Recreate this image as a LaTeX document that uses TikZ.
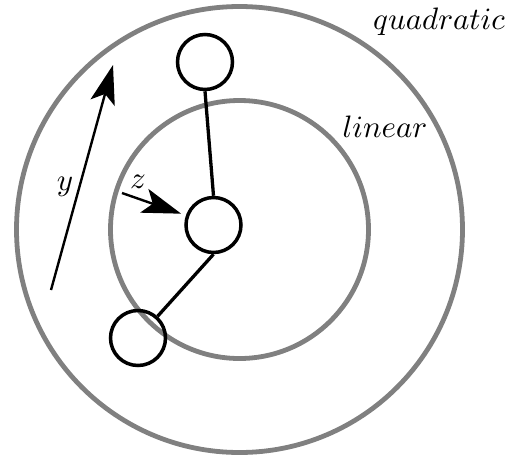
\documentclass[tikz,border=0pt]{standalone}
\usetikzlibrary{arrows.meta}
\begin{document}
\begin{tikzpicture}[x=1pt,y=1pt,
  ring/.style={draw=black!50, line width=4.8pt},
  bead/.style={circle, draw, line width=3.5pt, minimum size=55pt, inner sep=0pt},
  rod/.style={line width=3.3pt},
  push/.style={line width=2.4pt, -{Stealth[length=39pt,width=25pt,inset=9pt]}},
  lbl/.style={scale=3.1, inner sep=0pt}]
\useasboundingbox (-239.5,-229.5) rectangle (273.5,229.5);
\draw[ring] (0,0) circle (223);
\draw[ring] (0,0) circle (129);
\node[bead] (top) at (-34.5,167.5) {};
\node[bead] (mid) at (-26,4.5) {};
\node[bead] (bot) at (-101.5,-108.5) {};
\draw[rod] (top.south) -- (mid.north);
\draw[rod] (mid.south) -- (bot);
\coordinate (ytail) at (-188.5,-60.5);
\coordinate (yhead) at (-126.5,164.5);
\draw[push] (ytail) -- (yhead);
\coordinate (ztail) at (-117.5,36.5);
\draw[push, shorten >=5pt] (ztail) -- (mid);
\node[lbl] (quad) at (199.5,207.5) {$quadratic$}; %label
\node[lbl] (lin) at (145.5,102.5) {$linear$}; %label
\node[lbl] (ylbl) at (-174.5,42.5) {$y$}; %label
\node[lbl] (zlbl) at (-101.5,47.5) {$z$}; %label
\end{tikzpicture}
\end{document}
